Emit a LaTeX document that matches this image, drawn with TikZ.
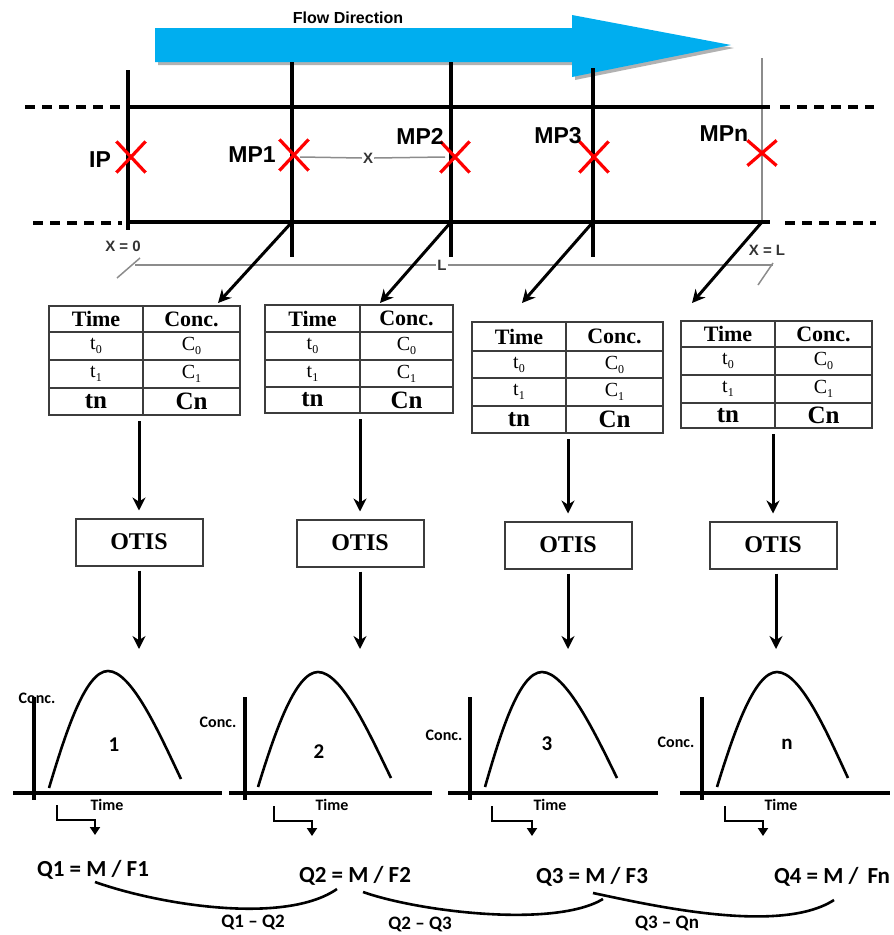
\documentclass[tikz,border=0pt]{standalone}
\usepackage{fontspec}
\setmainfont{Liberation Serif}
\newfontfamily\arialf{Liberation Sans}
\newfontfamily\calibf{Carlito}
\usetikzlibrary{arrows.meta,shapes.misc,fit,calc}
\definecolor{flowblue}{RGB}{0,174,239}
\definecolor{dimgray}{RGB}{140,140,140}
\definecolor{tabgray}{RGB}{60,60,60}
\newcommand\subsc[1]{\raisebox{-0.45ex}{\fontsize{12}{12}\selectfont #1}}
\tikzset{
 mainline/.style={line width=3.2pt, black},
 dashline/.style={line width=3.2pt, dash pattern=on 10pt off 7pt},
 redx/.style={cross out, draw=red, line width=3.2pt, minimum width=26pt, minimum height=28pt, inner sep=0pt},
 toplbl/.style={font=\arialf\bfseries\fontsize{23}{23}\selectfont, inner sep=0pt},
 dimline/.style={dimgray, line width=1.5pt},
 dimlbl/.style={font=\arialf\bfseries\fontsize{15}{15}\selectfont, inner sep=1pt, text=black!80},
 bigarrow/.style={line width=3pt, -{Stealth[length=13pt,width=13pt]}},
 tabframe/.style={draw=tabgray, line width=2pt, inner sep=0pt},
 tabline/.style={draw=tabgray, line width=2pt},
 tabhead/.style={font=\bfseries\fontsize{22}{22}\selectfont, inner sep=0pt},
 tabcell/.style={font=\fontsize{20}{20}\selectfont, inner sep=0pt},
 tabbold/.style={font=\bfseries\fontsize{25}{25}\selectfont, inner sep=0pt},
 otisbox/.style={draw=tabgray, line width=2pt, font=\bfseries\fontsize{24}{24}\selectfont, minimum width=127pt, minimum height=47pt},
 axisline/.style={line width=3.2pt},
 curveline/.style={line width=2.6pt},
 glbl/.style={font=\calibf\bfseries\fontsize{16}{16}\selectfont, inner sep=0pt},
 gnum/.style={font=\calibf\bfseries\fontsize{21}{21}\selectfont, inner sep=0pt},
 hookarrow/.style={line width=2pt, -{Triangle[length=8pt,width=10pt]}},
 eqlbl/.style={font=\calibf\bfseries\fontsize{23}{23}\selectfont, inner sep=0pt},
 difflbl/.style={font=\calibf\bfseries\fontsize{19}{19}\selectfont, inner sep=0pt},
 arcline/.style={line width=2.6pt},
}
% name, left, top, right, bottom, divider, row1, row2, row3
\newcommand\conctab[9]{%
 \node[tabframe, fit={(#2,#3) (#4,#5)}] (#1) {};
 \draw[tabline] (#6,#3) -- (#6,#5);
 \draw[tabline] (#2,#7) -- (#4,#7) (#2,#8) -- (#4,#8) (#2,#9) -- (#4,#9);
 \node[tabhead] (#1-h1) at ({(#2+#6)/2},{(#3+#7)/2}) {Time};
 \node[tabhead] (#1-h2) at ({(#6+#4)/2},{(#3+#7)/2}) {Conc.};
 \node[tabcell] (#1-a1) at ({(#2+#6)/2},{(#7+#8)/2}) {t\subsc{0}};
 \node[tabcell] (#1-a2) at ({(#6+#4)/2},{(#7+#8)/2}) {C\subsc{0}};
 \node[tabcell] (#1-b1) at ({(#2+#6)/2},{(#8+#9)/2}) {t\subsc{1}};
 \node[tabcell] (#1-b2) at ({(#6+#4)/2},{(#8+#9)/2}) {C\subsc{1}};
 \node[tabbold] (#1-c1) at ({(#2+#6)/2},{(#9+#5)/2}) {tn};
 \node[tabbold] (#1-c2) at ({(#6+#4)/2},{(#9+#5)/2}) {Cn};
}
\begin{document}
\begin{tikzpicture}[x=1pt,y=-1pt]
\useasboundingbox (0,0) rectangle (894,935);
% flow arrow
\fill[gray!60] (158,31) -- (575,31) -- (575,18) -- (734,48) -- (575,80) -- (575,65) -- (158,65) -- cycle;
\fill[flowblue] (155,28) -- (572,28) -- (572,15) -- (731,45) -- (572,77) -- (572,62) -- (155,62) -- cycle;
\node[font=\arialf\bfseries\fontsize{16}{16}\selectfont, inner sep=0pt] (flow) at (348,18) {Flow Direction};
% channel
\draw[mainline] (128,70) -- (128,230);
\draw[mainline] (292,62) -- (292,257);
\draw[mainline] (451,62) -- (451,257);
\draw[mainline] (593,68) -- (593,257);
\draw[dimgray, line width=1.8pt] (762,58) -- (762,222);
\draw[mainline] (128,107) -- (770,107);
\draw[mainline] (128,222) -- (770,222);
\draw[dashline] (25,107) -- (120,107);
\draw[dashline] (33,223) -- (122,223);
\draw[dashline] (780,107) -- (874,107);
\draw[dashline] (785,223) -- (876,223);
% dimensions
\node[dimlbl] (xlbl) at (368,158) {X};
\draw[dimline] (300,157) -- (xlbl.west);
\draw[dimline] (xlbl.east) -- (445,157);
\node[dimlbl] (x0) at (123,246) {X = 0};
\node[dimlbl] (xL) at (767,250) {X = L};
\node[dimlbl] (Llbl) at (442,265) {L};
\draw[dimline] (135,265) -- (Llbl.west);
\draw[dimline] (Llbl.east) -- (773,265);
\draw[dimline] (117,278) -- (140,258);
\draw[dimline] (758,285) -- (773,263);
% measuring points
\node[redx] (ipx) at (131,157) {};
\node[redx] (mp1x) at (294,155) {};
\node[redx] (mp2x) at (455,157) {};
\node[redx] (mp3x) at (594,157) {};
\node[redx, minimum width=26pt, minimum height=22pt] (mpnx) at (762,153) {};
\node[toplbl] (ip) at (100,160) {IP};
\node[toplbl] (mp1) at (252,155) {MP1};
\node[toplbl] (mp2) at (420,136) {MP2};
\node[toplbl] (mp3) at (558,136) {MP3};
\node[toplbl] (mpn) at (724,134) {MPn};
% arrow sources / targets
\coordinate (b1) at (292,222); \coordinate (e1) at (218,303);
\coordinate (b2) at (451,222); \coordinate (e2) at (380,303);
\coordinate (b3) at (593,222); \coordinate (e3) at (522,303);
\coordinate (b4) at (762,222); \coordinate (e4) at (692,303);
\draw[bigarrow] (b1) -- (e1);
\draw[bigarrow] (b2) -- (e2);
\draw[bigarrow] (b3) -- (e3);
\draw[bigarrow] (b4) -- (e4);
% tables
\conctab{t1}{49}{306}{240}{415}{143}{332}{360}{388}
\conctab{t2}{265}{305}{453}{413}{360}{332}{360}{387}
\conctab{t3}{472}{322}{663}{433}{566}{351}{378}{406}
\conctab{t4}{681}{321}{872}{428}{775}{347}{375}{403}
% OTIS boxes
\node[otisbox] (o1) at (139,542) {OTIS};
\node[otisbox] (o2) at (360,543) {OTIS};
\node[otisbox] (o3) at (568,545) {OTIS};
\node[otisbox] (o4) at (773,545) {OTIS};
\draw[bigarrow, shorten <=5pt, shorten >=7pt] (o1.north |- t1.south) -- (o1.north);
\draw[bigarrow, shorten <=5pt, shorten >=7pt] (o2.north |- t2.south) -- (o2.north);
\draw[bigarrow, shorten <=5pt, shorten >=7pt] (o3.north |- t3.south) -- (o3.north);
\draw[bigarrow, shorten <=5pt, shorten >=7pt] (o4.north |- t4.south) -- (o4.north);
\coordinate (g1) at (139,649);
\coordinate (g2) at (360,649);
\coordinate (g3) at (568,649);
\coordinate (g4) at (776,649);
\draw[bigarrow, shorten <=4pt] (o1.south) -- (g1);
\draw[bigarrow, shorten <=4pt] (o2.south) -- (g2);
\draw[bigarrow, shorten <=4pt] (o3.south) -- (g3);
\draw[bigarrow, shorten <=4pt] (o4.south -| g4) -- (g4);
% graphs
\draw[axisline] (34,697) -- (34,800);
\draw[axisline] (13,793) -- (222,793);
\draw[curveline] (49,788) .. controls (65,735) and (85,671) .. (108,671) .. controls (132,671) and (160,735) .. (181,779);
\draw[axisline] (245,697) -- (245,800);
\draw[axisline] (229,793) -- (432,793);
\draw[curveline] (258,787) .. controls (274,735) and (295,672) .. (318,672) .. controls (342,672) and (370,735) .. (391,778);
\draw[axisline] (470,697) -- (470,800);
\draw[axisline] (448,793) -- (658,793);
\draw[curveline] (485,787) .. controls (500,735) and (519,672) .. (542,672) .. controls (566,672) and (596,735) .. (617,778);
\draw[axisline] (702,697) -- (702,800);
\draw[axisline] (680,793) -- (890,793);
\draw[curveline] (717,787) .. controls (733,735) and (754,672) .. (777,672) .. controls (801,672) and (828,735) .. (848,778);
\node[glbl] (c1) at (37,698) {Conc.};
\node[glbl] (c2) at (218,722) {Conc.};
\node[glbl] (c3) at (444,735) {Conc.};
\node[glbl] (c4) at (676,742) {Conc.};
\node[glbl] (tm1) at (107,805) {Time};
\node[glbl] (tm2) at (332,805) {Time};
\node[glbl] (tm3) at (550,805) {Time};
\node[glbl] (tm4) at (781,805) {Time};
\node[gnum] (n1) at (114,745) {1};
\node[gnum] (n2) at (319,752) {2};
\node[gnum] (n3) at (547,744) {3};
\node[gnum] (n4) at (787,744) {n};
% equations
\node[eqlbl] (q1) at (93,870) {Q1 = M / F1};
\node[eqlbl] (q2) at (355,876) {Q2 = M / F2};
\node[eqlbl] (q3) at (592,877) {Q3 = M / F3};
\node[eqlbl] (q4) at (832,877) {Q4 = M /\, Fn};
% hook arrows
\coordinate (h1a) at (57,805); \coordinate (h1b) at (95,835);
\coordinate (h2a) at (274,806); \coordinate (h2b) at (312,836);
\coordinate (h3a) at (492,806); \coordinate (h3b) at (532,836);
\coordinate (h4a) at (725,806); \coordinate (h4b) at (763,836);
\draw[hookarrow] (h1a) |- ($(h1b)+(0,-15)$) -- (h1b);
\draw[hookarrow] (h2a) |- ($(h2b)+(0,-15)$) -- (h2b);
\draw[hookarrow] (h3a) |- ($(h3b)+(0,-15)$) -- (h3b);
\draw[hookarrow] (h4a) |- ($(h4b)+(0,-15)$) -- (h4b);
% difference arcs
\coordinate (a1s) at (95,882); \coordinate (a1e) at (337,889);
\coordinate (a2s) at (363,892); \coordinate (a2e) at (603,899);
\coordinate (a3s) at (593,893); \coordinate (a3e) at (834,900);
\draw[arcline] (a1s) .. controls (160,905) and (285,925) .. (a1e);
\draw[arcline] (a2s) .. controls (420,912) and (555,928) .. (a2e);
\draw[arcline] (a3s) .. controls (650,905) and (780,935) .. (a3e);
\node[difflbl] (d1) at (253,922) {Q1 – Q2};
\node[difflbl] (d2) at (420,924) {Q2 – Q3};
\node[difflbl] (d3) at (667,923) {Q3 – Qn};
\end{tikzpicture}
\end{document}
